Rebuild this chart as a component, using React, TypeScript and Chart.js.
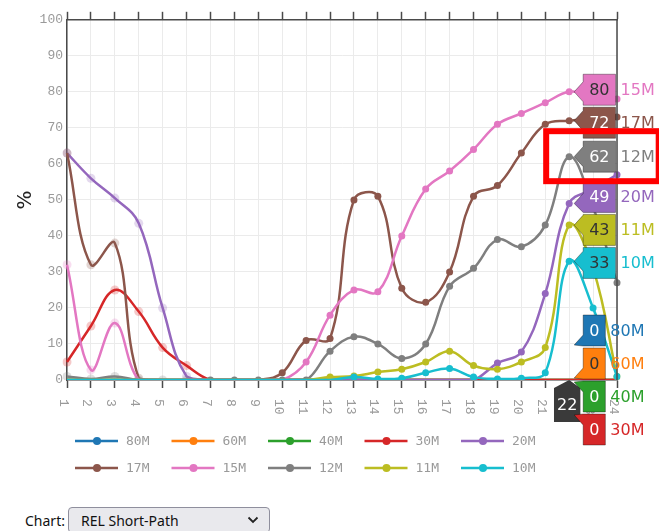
import React, { useEffect, useRef } from "react";
import { Chart, registerables } from "chart.js";
Chart.register(...registerables);

const categories = ["1","2","3","4","5","6","7","8","9","10","11","12","13","14","15","16","17","18","19","20","21","22","23","24"];
const seriesNames = ["80M","60M","40M","30M","20M","17M","15M","12M","11M","10M"];
const seriesColors = ["#1f77b4","#ff7f0e","#2ca02c","#d62728","#9467bd","#8c564b","#e377c2","#7f7f7f","#bcbd22","#17becf"];

const s80M = [0,0,0,0,0,0,0,0,0,0,0,0,0,0,0,0,0,0,0,0,0,0,0,0];
const s60M = [0,0,0,0,0,0,0,0,0,0,0,0,0,0,0,0,0,0,0,0,0,0,0,0];
const s40M = [0,0,0,0,0,0,0,0,0,0,0,0,0,0,0,0,0,0,0,0,0,0,0,0];
const s30M = [5,15,25,19,9,4,0,0,0,0,0,0,0,0,0,0,0,0,0,0,0,0,0,0];
const s20M = [63,56,50.5,43.5,20,1,0,0,0,0,0,0,0,0,0,0,0,0,4.7,7.8,24,49,53,57];
const s17M = [63,32,38,0.5,0,0,0,0,0,2,11,11.5,50,51,25.5,21.6,30,51,54,63,71,72,72.5,73];
const s15M = [32,2.8,15.8,0,0,0,0,0,0,0,5,18,25,24.5,40,53,58,64,71,74,77,80,79,78];
const s12M = [1,0.3,1,0,0,0,0,0,0,0,0,8,12,10,6,10,26,31,39,37,43,62,48,27];
const s11M = [0,0,0,0,0,0,0,0,0,0,0,0.8,1.1,2.2,3,5,8,4,3,5,9,43,31,1];
const s10M = [0,0,0,0,0,0,0,0,0,0,0,0,0.8,0.3,0.5,2,3.2,0.8,0.3,0.5,2,33,20,1];
const seriesValues = [s80M,s60M,s40M,s30M,s20M,s17M,s15M,s12M,s11M,s10M];

const yMin = 0;
const yMax = 100;
const yStep = 10;
const hoverLabel = "22";
const highlightedSeries = "12M";
const fadedUntil = "6";
const selectOptions = ["REL Short-Path"];

const AXIS = "#4a4a4a";
const GRID = "#ebebeb";
const TICK = "#9a9a9a";
const MONO = "'Liberation Mono', monospace";
const LEGEND_FONT = "'DejaVu Sans Mono', monospace";
const SANS = "'DejaVu Sans', sans-serif";

function textColorFor(hex: string) {
  const r = parseInt(hex.slice(1, 3), 16), g = parseInt(hex.slice(3, 5), 16), b = parseInt(hex.slice(5, 7), 16);
  const l = (r * 299 + g * 587 + b * 114) / 1000;
  return l > 135 ? "#333333" : "#ffffff";
}

const overlayPlugin = {
  id: "overlay",
  afterDraw(chart: any) {
    const { ctx, chartArea, scales } = chart;
    const xs = scales.x, ys = scales.y;
    ctx.save();
    ctx.strokeStyle = AXIS;
    ctx.lineWidth = 1.5;
    ctx.beginPath();
    ctx.moveTo(chartArea.right, chartArea.top);
    ctx.lineTo(chartArea.right, chartArea.bottom);
    ctx.stroke();

    ctx.font = "13px " + MONO;
    ctx.fillStyle = TICK;
    ctx.textAlign = "left";
    ctx.textBaseline = "middle";
    categories.forEach((c, i) => {
      const x = xs.getPixelForValue(i);
      ctx.save();
      ctx.translate(x - 4, chartArea.bottom + 19);
      ctx.rotate(Math.PI / 2);
      ctx.fillText(c, 0, 0);
      ctx.restore();
    });

    const cols = 5;
    seriesNames.forEach((name, i) => {
      const col = i % cols, row = Math.floor(i / cols);
      const x0 = 67 + col * 96.5;
      const y0 = 433 + row * 27;
      ctx.strokeStyle = seriesColors[i];
      ctx.lineWidth = 2.5;
      ctx.beginPath();
      ctx.moveTo(x0, y0);
      ctx.lineTo(x0 + 43, y0);
      ctx.stroke();
      ctx.fillStyle = seriesColors[i];
      ctx.beginPath();
      ctx.arc(x0 + 22, y0, 4, 0, Math.PI * 2);
      ctx.fill();
      ctx.fillStyle = TICK;
      ctx.font = "13px " + LEGEND_FONT;
      ctx.textAlign = "left";
      ctx.textBaseline = "middle";
      ctx.fillText(name, x0 + 51, y0 + 1);
    });

    const hi = categories.indexOf(hoverLabel);
    const px = xs.getPixelForValue(hi);

    ctx.font = "16px " + SANS;
    const xw = ctx.measureText(hoverLabel).width + 6;
    const cx = px - 2;
    const by = chartArea.bottom;
    ctx.fillStyle = "#3a3a3a";
    ctx.beginPath();
    ctx.moveTo(px, by);
    ctx.lineTo(cx + xw / 2, by + 8);
    ctx.lineTo(cx + xw / 2, by + 42);
    ctx.lineTo(cx - xw / 2, by + 42);
    ctx.lineTo(cx - xw / 2, by + 8);
    ctx.closePath();
    ctx.fill();
    ctx.fillStyle = "#ffffff";
    ctx.textAlign = "center";
    ctx.textBaseline = "middle";
    ctx.fillText(hoverLabel, cx, by + 26);

    const H = 33, BH = 31;
    const items = seriesNames.map((name, i) => {
      const v = seriesValues[i][hi];
      return { i, name, v, ty: ys.getPixelForValue(v), text: String(Math.round(v)), y: 0 };
    });
    items.sort((a, b) => a.ty - b.ty || a.i - b.i);
    let clusters: any[] = items.map((it) => ({ items: [it], center: it.ty }));
    let changed = true;
    while (changed) {
      changed = false;
      for (let k = 1; k < clusters.length; k++) {
        const a = clusters[k - 1], b = clusters[k];
        const aBottom = a.center + (a.items.length * H) / 2;
        const bTop = b.center - (b.items.length * H) / 2;
        if (bTop < aBottom - 0.01) {
          const all = a.items.concat(b.items);
          const c = all.reduce((s: number, it: any) => s + it.ty, 0) / all.length;
          clusters.splice(k - 1, 2, { items: all, center: c });
          changed = true;
          break;
        }
      }
    }
    clusters.forEach((cl) => {
      const n = cl.items.length;
      cl.items.forEach((it: any, j: number) => {
        it.y = cl.center - (n * H) / 2 + H / 2 + j * H;
      });
    });

    const tipX = px + 5;
    const left = px + 14;
    let hlBox: any = null;
    items.forEach((it) => {
      const color = seriesColors[it.i];
      ctx.font = "16px " + SANS;
      const tw = ctx.measureText(it.text).width;
      const w = tw + 12;
      const top = it.y - BH / 2, bottom = it.y + BH / 2;
      const tipY = Math.max(top + 1, Math.min(bottom - 1, it.ty));
      const b0 = Math.max(top, tipY - 10), b1 = Math.min(bottom, tipY + 10);
      ctx.beginPath();
      ctx.moveTo(left, top);
      ctx.lineTo(left + w, top);
      ctx.lineTo(left + w, bottom);
      ctx.lineTo(left, bottom);
      ctx.lineTo(left, b1);
      ctx.lineTo(tipX, tipY);
      ctx.lineTo(left, b0);
      ctx.closePath();
      ctx.fillStyle = color;
      ctx.fill();
      ctx.strokeStyle = "rgba(0,0,0,0.35)";
      ctx.lineWidth = 1;
      ctx.stroke();
      ctx.fillStyle = textColorFor(color);
      ctx.textAlign = "center";
      ctx.textBaseline = "middle";
      ctx.fillText(it.text, left + w / 2, it.y + 1);
      ctx.fillStyle = color;
      ctx.textAlign = "left";
      const nx = left + w + 5;
      ctx.fillText(it.name, nx, it.y + 1);
      if (it.name === highlightedSeries) {
        hlBox = { top, bottom, right: nx + ctx.measureText(it.name).width };
      }
    });

    if (hlBox) {
      ctx.strokeStyle = "#ff0000";
      ctx.lineWidth = 6;
      ctx.strokeRect(tipX - 28, hlBox.top - 10, hlBox.right + 4 - (tipX - 28), hlBox.bottom - hlBox.top + 19);
    }
    ctx.restore();
  },
};

export default function App() {
  const ref = useRef<HTMLCanvasElement | null>(null);
  useEffect(() => {
    if (!ref.current) return;
    const fadeIdx = categories.indexOf(fadedUntil);
    const chart = new Chart(ref.current, {
      type: "line",
      data: {
        labels: categories,
        datasets: seriesNames.map((name, i) => ({
          label: name,
          data: seriesValues[i],
          borderColor: seriesColors[i],
          backgroundColor: seriesColors[i],
          pointBackgroundColor: (c: any) => (c.dataIndex <= fadeIdx ? seriesColors[i] + "40" : seriesColors[i]),
          borderWidth: 2.5,
          tension: 0.4,
          fill: false,
          order: seriesNames.length - 1 - i,
          pointRadius: (c: any) => (c.raw === 0 && name !== "12M" ? 0 : c.dataIndex <= fadeIdx ? 4.5 : 3.5),
          pointBorderWidth: 0,
          pointHoverRadius: 0,
        })),
      },
      options: {
        responsive: false,
        animation: false,
        events: [],
        layout: { padding: { left: 0, right: 42, top: 3, bottom: 58 } },
        plugins: { legend: { display: false }, tooltip: { enabled: false } },
        scales: {
          x: {
            type: "category",
            position: "bottom",
            offset: false,
            grid: { color: GRID, lineWidth: 1, tickLength: 8, tickColor: AXIS, tickWidth: 1.5 },
            border: { color: AXIS, width: 1.5 },
            ticks: { display: false },
            afterFit: (s: any) => { s.height = 60; },
          },
          x2: {
            type: "category",
            position: "top",
            offset: false,
            grid: { drawOnChartArea: false, tickLength: 8, tickColor: AXIS, tickWidth: 1.5 },
            border: { color: AXIS, width: 1.5 },
            ticks: { display: false },
          },
          y: {
            min: yMin,
            max: yMax,
            grid: { color: GRID, lineWidth: 1, drawTicks: false },
            border: { color: AXIS, width: 1.5 },
            ticks: { stepSize: yStep, color: TICK, padding: 4, font: { family: MONO, size: 13 } },
            title: { display: true, text: "%", color: "#222", font: { family: SANS, size: 20 }, padding: { top: 6, bottom: 0 } },
            afterFit: (s: any) => { s.width = 59; },
          },
        },
      } as any,
      plugins: [overlayPlugin],
    });
    return () => chart.destroy();
  }, []);

  const chevron =
    "url(\"data:image/svg+xml;utf8,<svg xmlns='http://www.w3.org/2000/svg' width='12' height='8' viewBox='0 0 12 8'><path d='M1.5 1.5 L6 6 L10.5 1.5' fill='none' stroke='%23222' stroke-width='1.8'/></svg>\")";

  return (
    <div>
      <div style={{ width: 651, height: 490 }}>
        <canvas ref={ref} width={651} height={490} style={{ width: 651, height: 490, display: "block" }} />
      </div>
      <div style={{ marginTop: 9, paddingLeft: 17, display: "flex", alignItems: "center", fontFamily: "'Noto Sans', sans-serif", fontSize: 14, color: "#111" }}>
        <span style={{ display: "inline-block", width: 43 }}>Chart:</span>
        <select
          defaultValue={selectOptions[0]}
          style={{
            width: 202,
            height: 26,
            fontFamily: "'Noto Sans', sans-serif",
            fontSize: 14,
            color: "#111",
            background: "#e9e9ed",
            backgroundImage: chevron,
            backgroundRepeat: "no-repeat",
            backgroundPosition: "right 10px center",
            border: "1px solid #8f8f9d",
            borderRadius: 4,
            paddingLeft: 12,
            appearance: "none",
            WebkitAppearance: "none",
            boxSizing: "border-box",
          } as any}
        >
          {selectOptions.map((o) => (
            <option key={o} value={o}>{o}</option>
          ))}
        </select>
      </div>
    </div>
  );
}
